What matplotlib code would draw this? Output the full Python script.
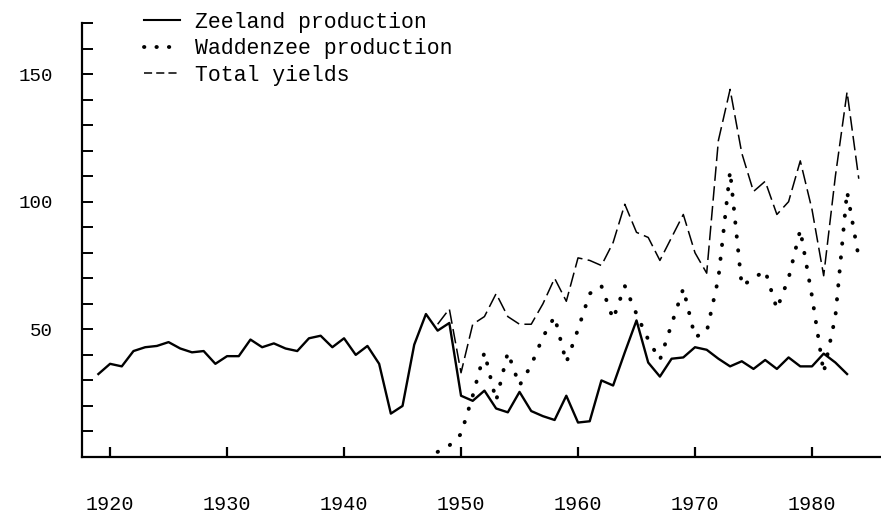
import matplotlib.pyplot as plt
from matplotlib.lines import Line2D

# yearly values
years_zeeland = list(range(1919, 1984))
zeeland = [32.5, 36.5, 35.5, 41.5, 43, 43.5, 45, 42.5, 41, 41.5,
           36.5, 39.5, 39.5, 46, 43, 44.5, 42.5, 41.5, 46.5, 47.5,
           43, 46.5, 40, 43.5, 36.5, 17, 20, 44, 56, 49.5,
           52.5, 24, 22, 26, 19, 17.5, 25.5, 18, 16, 14.5,
           24, 13.5, 14, 30, 28, 41, 53.5, 37, 31.5, 38.5,
           39, 43, 42, 38.5, 35.5, 37.5, 34.5, 38, 34.5, 39,
           35.5, 35.5, 40.5, 37, 32.5]

years_wadden = list(range(1948, 1985))
waddenzee = [2, 4.5, 9, 24, 41, 22, 41, 28, 36, 47,
             55, 37, 50, 64, 67, 54, 67, 56, 46, 38,
             52, 66, 47, 49, 70, 112, 67, 70, 73, 58,
             70, 89, 63, 33, 55, 104, 78]

years_total = list(range(1948, 1985))
total = [52, 58, 33, 52, 55, 64, 55, 52, 52, 60,
         70, 61, 78, 77, 75, 84, 99, 88, 86, 77,
         86, 95, 80, 72, 124, 144, 119, 104, 108, 95,
         100, 116, 97, 71, 110, 143, 109]

xticks = [1920, 1930, 1940, 1950, 1960, 1970, 1980]
labels = ['Zeeland production', 'Waddenzee production', 'Total yields']

mono = 'Liberation Mono'

fig = plt.figure(figsize=(8.81, 5.15), dpi=100)
ax = fig.add_axes([82 / 881, 58 / 515, 1 - 82 / 881, 434 / 515])

ax.plot(years_zeeland, zeeland, color='black', lw=1.7)
ax.plot(years_wadden, waddenzee, color='black', lw=2.8,
        linestyle=(0, (0.1, 3.5)), dash_capstyle='round')
ax.plot(years_total, total, color='black', lw=1.1,
        linestyle=(0, (9.5, 3.5)))

ax.set_xlim(1917.6, 1985.9)
ax.set_ylim(0, 170)

ax.spines['top'].set_visible(False)
ax.spines['right'].set_visible(False)
ax.spines['left'].set_linewidth(1.6)
ax.spines['bottom'].set_linewidth(1.6)

ax.set_xticks(xticks)
ax.set_xticklabels([str(x) for x in xticks], fontfamily=mono, fontsize=14.5)
yt = list(range(0, 171, 10))
ax.set_yticks(yt)
ax.set_yticklabels([str(v) if v in (50, 100, 150) else '' for v in yt],
                   fontfamily=mono, fontsize=13.8)
ax.tick_params(axis='x', direction='in', length=7, width=1.6, pad=27)
ax.tick_params(axis='y', direction='in', length=8, width=1.4, pad=21)

# legend drawn with short samples like the typed key
handles = [
    Line2D([], [], color='black', lw=1.5),
    Line2D([], [], color='black', lw=2.8, linestyle=(0, (0.1, 3.1)),
           dash_capstyle='round'),
    Line2D([], [], color='black', lw=1.1, linestyle=(0, (5.3, 2.7))),
]
ax.legend(handles, labels, loc='upper left',
          bbox_to_anchor=(144 / 881, 1 - 12 / 515),
          bbox_transform=fig.transFigure, frameon=False,
          prop={'family': mono, 'size': 15.5}, handlelength=1.65,
          handletextpad=0.7, labelspacing=0.25, borderpad=0,
          borderaxespad=0)

fig.savefig('out.png', dpi=100)
